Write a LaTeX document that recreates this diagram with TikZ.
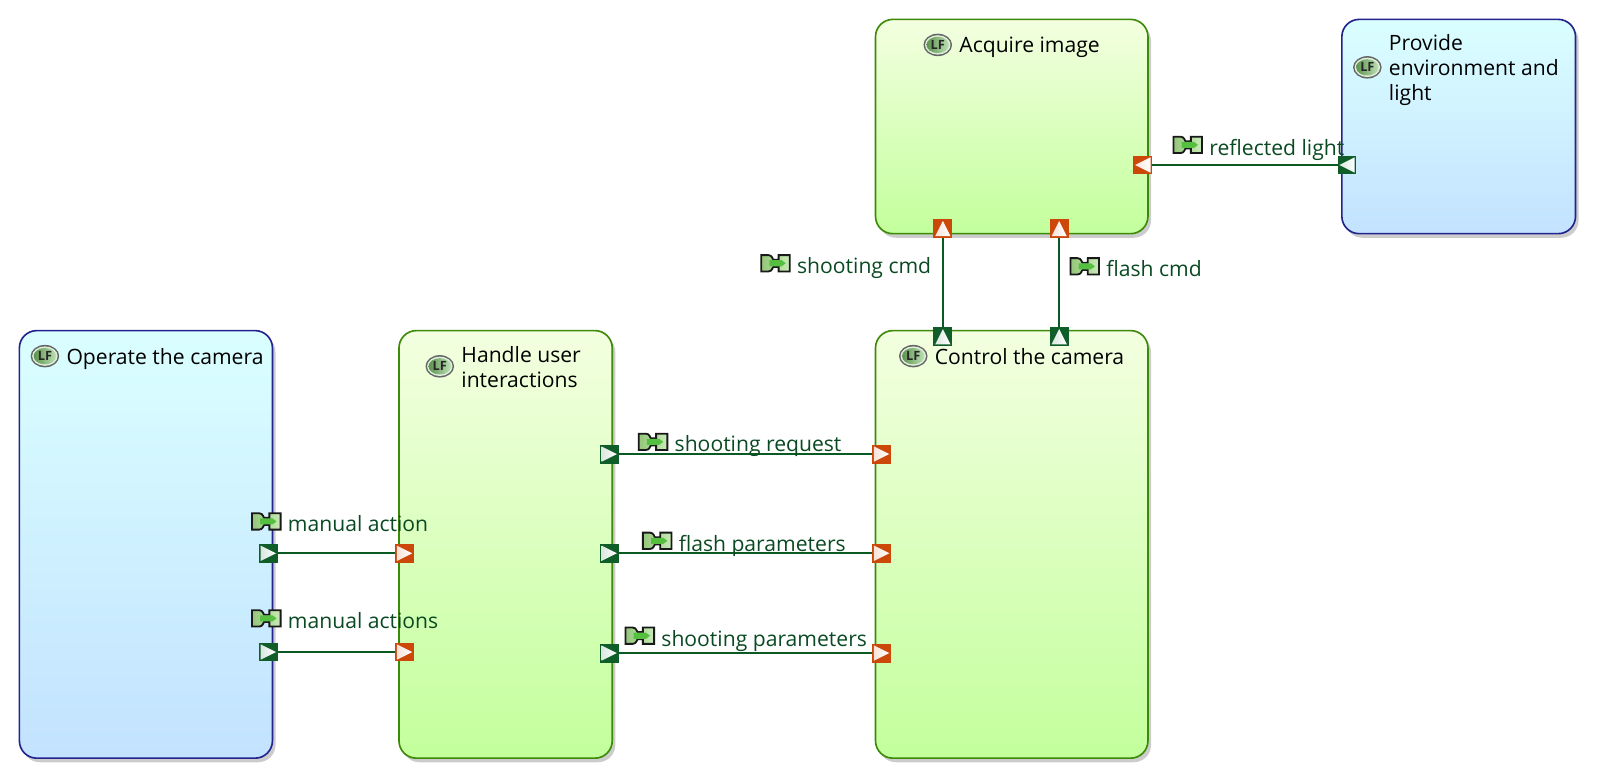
\documentclass[tikz,border=0pt]{standalone}
\usepackage{fontspec}
\setmainfont{Open Sans}
\definecolor{linegreen}{HTML}{0B5A24}
\definecolor{labelgreen}{HTML}{0A4A22}
\definecolor{portgreen}{HTML}{0F5E2A}
\definecolor{portorange}{HTML}{CC4808}
\definecolor{boxgreen}{HTML}{3C8A08}
\definecolor{boxblue}{HTML}{23238E}
\definecolor{gtop}{HTML}{F3FFE0}
\definecolor{gbot}{HTML}{C3FF9C}
\definecolor{btop}{HTML}{DAFFFF}
\definecolor{bbot}{HTML}{C2E2FF}
\definecolor{flowfill}{HTML}{A5DC88}
\definecolor{flowin}{HTML}{55C040}
\definecolor{lfgreen}{HTML}{7CC46A}
\tikzset{
  x=1pt,y=-1pt,
  flowline/.style={draw=linegreen,line width=1.9pt},
  title/.style={font=\fontsize{20.7}{24.5}\selectfont,text=black,anchor=west,inner sep=0pt,align=left},
  flowlabel/.style={font=\fontsize{20.7}{24}\selectfont,text=labelgreen,anchor=west,inner sep=0pt},
  portbox/.style={minimum size=18.5pt,inner sep=0pt,line width=0pt},
}
% name, x1,y1,x2,y2, top,bottom,border
\newcommand{\funcblock}[8]{%
  \fill[black!20,rounded corners=17pt] (#2+3,#3+4) rectangle (#4+3,#5+4);
  \path[rounded corners=17pt,top color=#6,bottom color=#7,draw=#8,line width=1.6pt]
     (#2,#3) rectangle (#4,#5);
  \node[inner sep=0pt,minimum width=#4pt-#2pt,minimum height=#5pt-#3pt] (#1) at ({(#2+#4)/2},{(#3+#5)/2}) {};
}
% x,y centre
\newcommand{\lfmark}[2]{%
  \fill[black!60] (#1,#2) ellipse (14pt and 11pt);
  \fill[white!75!lfgreen] (#1,#2) ellipse (12.5pt and 9.5pt);
  \shade[left color=lfgreen!75!black,right color=white!50!lfgreen] (#1,#2) ellipse (11pt and 8pt);
  \node[font=\fontsize{12.5}{12.5}\selectfont\bfseries,text=black!85,inner sep=0pt] at (#1,#2) {LF};
}
% x,y centre
\newcommand{\flowmark}[2]{%
  \begin{scope}[shift={(#1,#2)}]
    \path[left color=flowfill!90!black,right color=white!40!flowfill,draw=black!90,line width=1.8pt]
      (-14,-8) -- (-7,-8) .. controls (-3,-8) and (-3,-3.5) .. (-2,-3.5) -- (3,-3.5) -- (3,-8) -- (14,-8) -- (14,8) -- (3,8) -- (3,3.5) -- (-2,3.5) .. controls (-3,3.5) and (-3,8) .. (-7,8) -- (-14,8) -- cycle;
    \fill[flowin] (-6,-3) -- (6,-3) -- (10,0) -- (6,3) -- (-6,3) -- cycle;
  \end{scope}%
}
% name,x,y,colour,rotation
\newcommand{\portmark}[5]{%
  \node[portbox,fill=#4] (#1) at (#2,#3) {};
  \begin{scope}[shift={(#2,#3)},rotate=#5]
    \shade[left color=white!85!#4,right color=white] (-7.5,-7.5) -- (7.5,0) -- (-7.5,7.5) -- cycle;
  \end{scope}%
}
\begin{document}
\begin{tikzpicture}
\useasboundingbox (0,0) rectangle (1568,767.33);
% boxes
\funcblock{operate}{19}{324}{267}{743}{btop}{bbot}{boxblue}
\funcblock{handle}{391}{324}{600}{743}{gtop}{gbot}{boxgreen}
\funcblock{control}{858}{324}{1125}{743}{gtop}{gbot}{boxgreen}
\funcblock{acquire}{858}{19}{1125}{229}{gtop}{gbot}{boxgreen}
\funcblock{provide}{1315}{19}{1544}{229}{btop}{bbot}{boxblue}
% titles
\lfmark{44}{349}
\node[title] (t1) at (65,351.5) {Operate the camera};
\lfmark{431}{359}
\node[title] (t2) at (452,360) {Handle user\\interactions};
\lfmark{895}{349}
\node[title] (t3) at (916,349) {Control the camera};
\lfmark{919}{44}
\node[title] (t4) at (940,46) {Acquire image};
\lfmark{1340}{66}
\node[title] (t5) at (1361,69) {Provide\\environment and\\light};
% ports
\portmark{p1}{263}{542.2}{portgreen}{0}
\portmark{p2}{396.5}{542.2}{portorange}{0}
\portmark{p3}{263}{639}{portgreen}{0}
\portmark{p4}{396.5}{639}{portorange}{0}
\portmark{p5}{597}{445}{portgreen}{0}
\portmark{p6}{864}{445}{portorange}{0}
\portmark{p7}{597}{542.2}{portgreen}{0}
\portmark{p8}{864}{542.2}{portorange}{0}
\portmark{p9}{597}{640}{portgreen}{0}
\portmark{p10}{864}{640}{portorange}{0}
\portmark{p11}{924}{224}{portorange}{90}
\portmark{p12}{1038}{224}{portorange}{90}
\portmark{p13}{924}{330}{portgreen}{90}
\portmark{p14}{1038}{330}{portgreen}{90}
\portmark{p15}{1120}{161.7}{portorange}{180}
\portmark{p16}{1320}{161.7}{portgreen}{180}
% connectors
\draw[flowline] (p1) -- (p2);
\draw[flowline] (p3) -- (p4);
\draw[flowline] (p5) -- (p6);
\draw[flowline] (p7) -- (p8);
\draw[flowline] (p9) -- (p10);
\draw[flowline] (p13) -- (p11);
\draw[flowline] (p14) -- (p12);
\draw[flowline] (p16) -- (p15);
% flow labels
\flowmark{261}{511}
\node[flowlabel] (l1) at (282,513) {manual action};
\flowmark{261}{606}
\node[flowlabel] (l2) at (282,608) {manual actions};
\flowmark{640}{433}
\node[flowlabel] (l3) at (661,437.5) {shooting request};
\flowmark{644}{530}
\node[flowlabel] (l4) at (665,535) {flash parameters};
\flowmark{627}{623}
\node[flowlabel] (l5) at (648,628) {shooting parameters};
\flowmark{760}{258}
\node[flowlabel] (l6) at (781,262.5) {shooting cmd};
\flowmark{1063}{261}
\node[flowlabel] (l7) at (1084,263) {flash cmd};
\flowmark{1164}{142}
\node[flowlabel] (l8) at (1185,146.5) {reflected light};
\end{tikzpicture}
\end{document}
